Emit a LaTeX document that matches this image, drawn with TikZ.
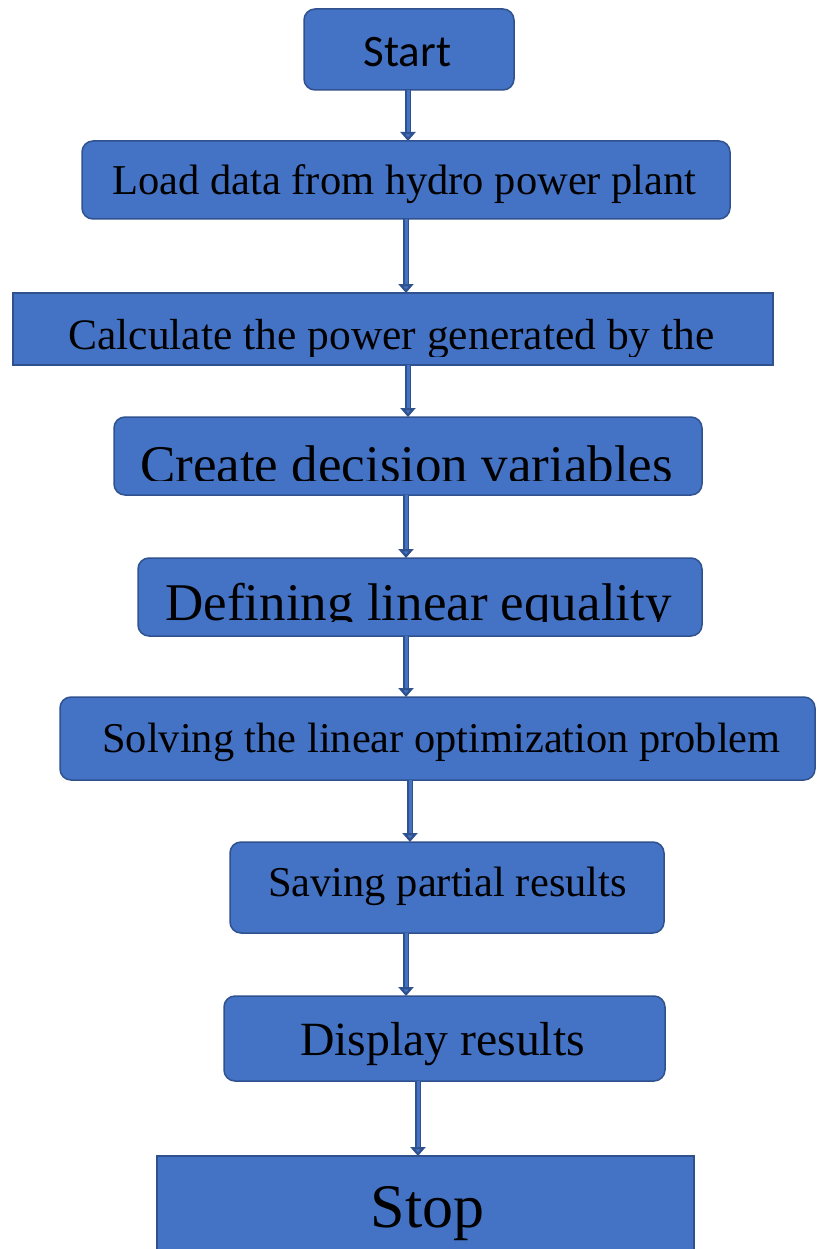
\documentclass[tikz,border=0pt]{standalone}
\usepackage{fontspec}
\setmainfont{Liberation Serif}
\newfontfamily\calfont{Carlito}
\usetikzlibrary{arrows.meta}
\definecolor{boxfill}{HTML}{4472C4}
\definecolor{boxline}{HTML}{2F528F}
\tikzset{
  box/.style={draw=boxline, line width=1.5pt, fill=boxfill, inner sep=0pt, outer sep=0pt},
  rbox/.style={box, rounded corners=11pt},
  txt/.style={anchor=base, inner sep=0pt, text=black},
  connout/.style={draw=boxline, line width=6pt, -{Triangle[width=15pt,length=9pt,fill=boxfill]}},
  connin/.style={draw=boxfill, line width=3pt, shorten >=9pt},
}
\newcommand{\fs}[1]{\fontsize{#1}{#1}\selectfont}
\begin{document}
\begin{tikzpicture}[x=1pt,y=-1pt]
\useasboundingbox (0,0) rectangle (816,1249);
% boxes
\node[rbox, minimum width=210pt, minimum height=81pt] (start) at (409,49.5) {};
\node[rbox, minimum width=648pt, minimum height=78pt] (load) at (406,180) {};
\node[box, minimum width=760pt, minimum height=72pt] (calc) at (393,329) {};
\node[rbox, minimum width=588pt, minimum height=78pt] (create) at (408,456) {};
\node[rbox, minimum width=564pt, minimum height=78pt] (define) at (420,597) {};
\node[rbox, minimum width=755pt, minimum height=83pt] (solve) at (437.5,738.5) {};
\node[rbox, minimum width=434pt, minimum height=91pt] (save) at (447,887.5) {};
\node[rbox, minimum width=441pt, minimum height=85pt] (display) at (444.5,1038.5) {};
\node[box, minimum width=537pt, minimum height=110pt] (stop) at (425.5,1211) {};
% texts
\node[txt, font=\calfont\fs{45}] (tstart) at (407.5,67) {Start};
\node[txt, font=\fs{42.5}] (tload) at (404.5,195) {Load data from hydro power plant};
\begin{scope}
\clip (0,0) rectangle (816,356);
\node[txt, font=\fs{43.5}] (tcalc) at (391.5,349) {Calculate the power generated by the};
\end{scope}
\begin{scope}
\clip (0,0) rectangle (816,480);
\node[txt, font=\fs{53}] (tcreate) at (406.5,482) {Create decision variables};
\end{scope}
\begin{scope}
\clip (0,0) rectangle (816,621);
\node[txt, font=\fs{53}] (tdefine) at (418.5,620) {Defining linear equality};
\end{scope}
\node[txt, font=\fs{42.4}] (tsolve) at (441.5,752) {Solving the linear optimization problem};
\node[txt, font=\fs{42.5}] (tsave) at (447.5,896) {Saving partial results};
\node[txt, font=\fs{47.7}] (tdisplay) at (442.5,1055) {Display results};
\node[txt, font=\fs{62}] (tstop) at (427.5,1227) {Stop};
% connectors
\foreach \a/\b/\x in {start/load/408, load/calc/406, calc/create/408, create/define/406, define/solve/406, solve/save/410, save/display/406, display/stop/418}{
  \draw[connout] (\x,0 |- \a.south) -- (\x,0 |- \b.north);
  \draw[connin] (\x,0 |- \a.south) -- (\x,0 |- \b.north);
}
\end{tikzpicture}
\end{document}
